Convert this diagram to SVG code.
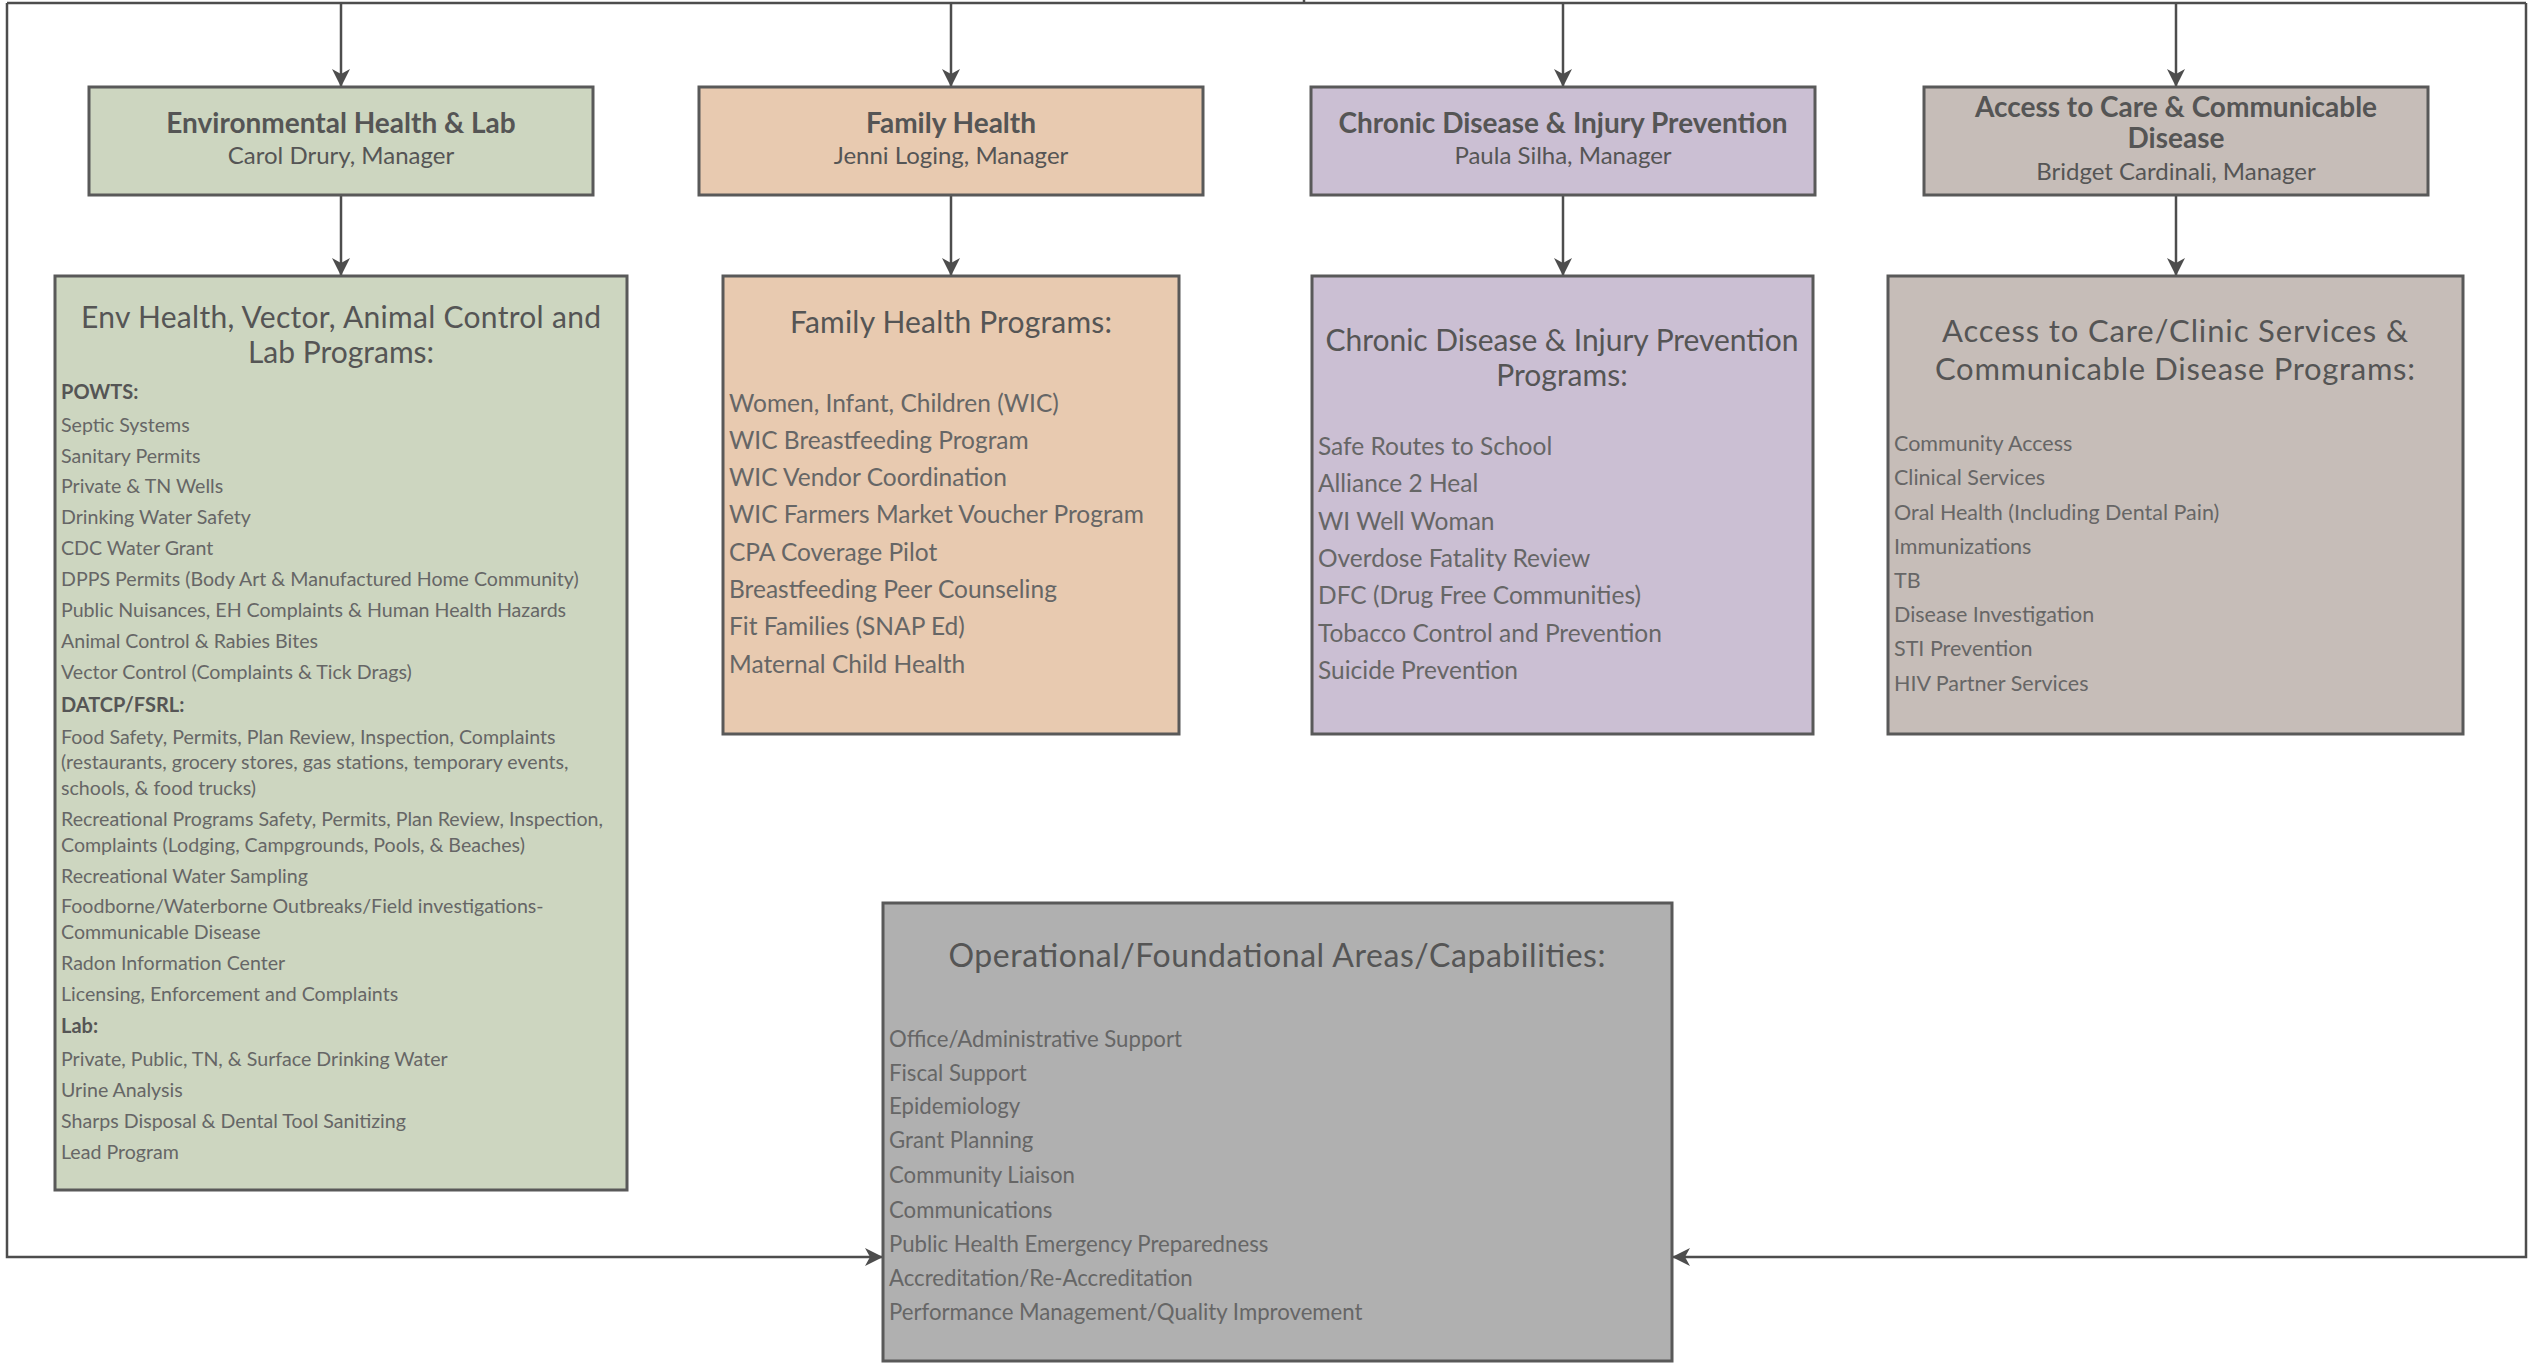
<svg xmlns="http://www.w3.org/2000/svg" width="2540" height="1366" viewBox="0 0 2540 1366">
<style>
.box{stroke:#595959;stroke-width:3}
.conn{fill:none;stroke:#4d4d4d;stroke-width:2.5}
text{font-family:Lato,"Liberation Sans",sans-serif;fill:#555}
.mt{font-weight:bold;font-size:28px;text-anchor:middle}
.ms{font-size:24px;text-anchor:middle}
.pt{font-size:30px;text-anchor:middle}
.it{font-size:19.6px;fill:#666}
.hd{font-size:20px;font-weight:bold;fill:#555}
.fi{font-size:24.5px;fill:#666}
.ai{font-size:21.5px;fill:#666}
.oi{font-size:22.2px;fill:#666}
</style>
<defs>
<marker id="arr" markerUnits="userSpaceOnUse" viewBox="0 0 18 18" markerWidth="18" markerHeight="18" refX="18" refY="9" orient="auto">
<path d="M0,0 L18,9 L0,18 L5,9 z" fill="#4d4d4d"/>
</marker>
</defs>
<rect width="2540" height="1366" fill="#fff"/>

<g id="connectors">
<line class="conn" x1="1304" y1="0" x2="1304" y2="4"/>
<line class="conn" x1="7" y1="3" x2="2526" y2="3"/>
<path class="conn" d="M341,3 V87" marker-end="url(#arr)"/>
<path class="conn" d="M951,3 V87" marker-end="url(#arr)"/>
<path class="conn" d="M1563,3 V87" marker-end="url(#arr)"/>
<path class="conn" d="M2176,3 V87" marker-end="url(#arr)"/>
<path class="conn" d="M341,195 V276" marker-end="url(#arr)"/>
<path class="conn" d="M951,195 V276" marker-end="url(#arr)"/>
<path class="conn" d="M1563,195 V276" marker-end="url(#arr)"/>
<path class="conn" d="M2176,195 V276" marker-end="url(#arr)"/>
<path class="conn" d="M7,3 V1257 H883" marker-end="url(#arr)"/>
<path class="conn" d="M2526,3 V1257 H1672" marker-end="url(#arr)"/>
</g>

<g id="env-health-manager">
<rect class="box" x="89" y="87" width="504" height="108" fill="#cdd6c0"/>
<text class="mt" x="341" y="133">Environmental Health &amp; Lab</text>
<text class="ms" x="341" y="164">Carol Drury, Manager</text>
</g>
<g id="family-health-manager">
<rect class="box" x="699" y="87" width="504" height="108" fill="#e8cab0"/>
<text class="mt" x="951" y="133">Family Health</text>
<text class="ms" x="951" y="164">Jenni Loging, Manager</text>
</g>
<g id="chronic-disease-manager">
<rect class="box" x="1311" y="87" width="504" height="108" fill="#cbbfd3"/>
<text class="mt" x="1563" y="133">Chronic Disease &amp; Injury Prevention</text>
<text class="ms" x="1563" y="164">Paula Silha, Manager</text>
</g>
<g id="access-care-manager">
<rect class="box" x="1924" y="87" width="504" height="108" fill="#c6bdb8"/>
<text class="mt" x="2176" y="117">Access to Care &amp; Communicable</text>
<text class="mt" x="2176" y="148">Disease</text>
<text class="ms" x="2176" y="180">Bridget Cardinali, Manager</text>
</g>

<g id="env-health-programs">
<rect class="box" x="55" y="276" width="572" height="914" fill="#cdd6c0"/>
<text class="pt" x="341" y="328" textLength="520">Env Health, Vector, Animal Control and</text>
<text class="pt" x="341" y="363">Lab Programs:</text>
<text class="hd" x="61" y="399">POWTS:</text>
<text class="it" x="61" y="432">Septic Systems</text>
<text class="it" x="61" y="463">Sanitary Permits</text>
<text class="it" x="61" y="493">Private &amp; TN Wells</text>
<text class="it" x="61" y="524">Drinking Water Safety</text>
<text class="it" x="61" y="555">CDC Water Grant</text>
<text class="it" x="61" y="586">DPPS Permits (Body Art &amp; Manufactured Home Community)</text>
<text class="it" x="61" y="617">Public Nuisances, EH Complaints &amp; Human Health Hazards</text>
<text class="it" x="61" y="648">Animal Control &amp; Rabies Bites</text>
<text class="it" x="61" y="679">Vector Control (Complaints &amp; Tick Drags)</text>
<text class="hd" x="61" y="712">DATCP/FSRL:</text>
<text class="it" x="61" y="744">Food Safety, Permits, Plan Review, Inspection, Complaints</text>
<text class="it" x="61" y="769">(restaurants, grocery stores, gas stations, temporary events,</text>
<text class="it" x="61" y="795">schools, &amp; food trucks)</text>
<text class="it" x="61" y="826">Recreational Programs Safety, Permits, Plan Review, Inspection,</text>
<text class="it" x="61" y="852">Complaints (Lodging, Campgrounds, Pools, &amp; Beaches)</text>
<text class="it" x="61" y="883">Recreational Water Sampling</text>
<text class="it" x="61" y="913">Foodborne/Waterborne Outbreaks/Field investigations-</text>
<text class="it" x="61" y="939">Communicable Disease</text>
<text class="it" x="61" y="970">Radon Information Center</text>
<text class="it" x="61" y="1001">Licensing, Enforcement and Complaints</text>
<text class="hd" x="61" y="1033">Lab:</text>
<text class="it" x="61" y="1066">Private, Public, TN, &amp; Surface Drinking Water</text>
<text class="it" x="61" y="1097">Urine Analysis</text>
<text class="it" x="61" y="1128">Sharps Disposal &amp; Dental Tool Sanitizing</text>
<text class="it" x="61" y="1159">Lead Program</text>
</g>

<g id="family-health-programs">
<rect class="box" x="723" y="276" width="456" height="458" fill="#e8cab0"/>
<text class="pt" x="951" y="333" textLength="322">Family Health Programs:</text>
<text class="fi" x="729" y="412">Women, Infant, Children (WIC)</text>
<text class="fi" x="729" y="449">WIC Breastfeeding Program</text>
<text class="fi" x="729" y="486">WIC Vendor Coordination</text>
<text class="fi" x="729" y="523">WIC Farmers Market Voucher Program</text>
<text class="fi" x="729" y="561">CPA Coverage Pilot</text>
<text class="fi" x="729" y="598">Breastfeeding Peer Counseling</text>
<text class="fi" x="729" y="635">Fit Families (SNAP Ed)</text>
<text class="fi" x="729" y="673">Maternal Child Health</text>
</g>

<g id="chronic-disease-programs">
<rect class="box" x="1312" y="276" width="501" height="458" fill="#cbbfd3"/>
<text class="pt" x="1562" y="351" textLength="473">Chronic Disease &amp; Injury Prevention</text>
<text class="pt" x="1562" y="386">Programs:</text>
<text class="fi" x="1318" y="455">Safe Routes to School</text>
<text class="fi" x="1318" y="492">Alliance 2 Heal</text>
<text class="fi" x="1318" y="530">WI Well Woman</text>
<text class="fi" x="1318" y="567">Overdose Fatality Review</text>
<text class="fi" x="1318" y="604">DFC (Drug Free Communities)</text>
<text class="fi" x="1318" y="642">Tobacco Control and Prevention</text>
<text class="fi" x="1318" y="679">Suicide Prevention</text>
</g>

<g id="access-care-programs">
<rect class="box" x="1888" y="276" width="575" height="458" fill="#c6bdb8"/>
<text class="pt" x="2175" y="342" style="font-size:31px" textLength="466">Access to Care/Clinic Services &amp;</text>
<text class="pt" x="2175" y="380" style="font-size:31px" textLength="480">Communicable Disease Programs:</text>
<text class="ai" x="1894" y="451">Community Access</text>
<text class="ai" x="1894" y="485">Clinical Services</text>
<text class="ai" x="1894" y="520">Oral Health (Including Dental Pain)</text>
<text class="ai" x="1894" y="554">Immunizations</text>
<text class="ai" x="1894" y="588">TB</text>
<text class="ai" x="1894" y="622">Disease Investigation</text>
<text class="ai" x="1894" y="656">STI Prevention</text>
<text class="ai" x="1894" y="691">HIV Partner Services</text>
</g>

<g id="operational-foundational">
<rect class="box" x="883" y="903" width="789" height="458" fill="#b0b0b0"/>
<text class="pt" x="1277" y="967" style="font-size:32px" textLength="657">Operational/Foundational Areas/Capabilities:</text>
<text class="oi" x="889" y="1047">Office/Administrative Support</text>
<text class="oi" x="889" y="1081">Fiscal Support</text>
<text class="oi" x="889" y="1114">Epidemiology</text>
<text class="oi" x="889" y="1148">Grant Planning</text>
<text class="oi" x="889" y="1183">Community Liaison</text>
<text class="oi" x="889" y="1218">Communications</text>
<text class="oi" x="889" y="1252">Public Health Emergency Preparedness</text>
<text class="oi" x="889" y="1286">Accreditation/Re-Accreditation</text>
<text class="oi" x="889" y="1320">Performance Management/Quality Improvement</text>
</g>
</svg>
